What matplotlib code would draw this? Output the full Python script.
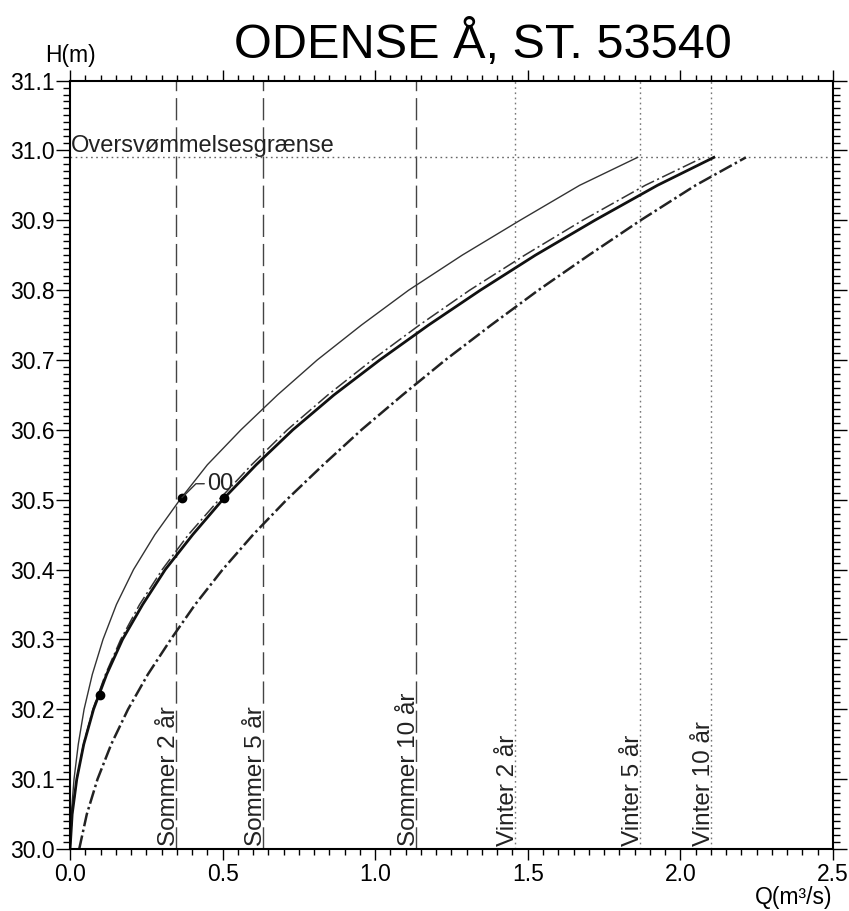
import matplotlib
matplotlib.use('Agg')
import matplotlib.pyplot as plt
from matplotlib.ticker import MultipleLocator

plt.rcParams['font.family'] = ['Liberation Sans', 'DejaVu Sans']
plt.rcParams['lines.scale_dashes'] = False

# Vandstand (m) og vandføring (m3/s) aflæst fra kurverne
H = [30.0, 30.05, 30.1, 30.15, 30.2, 30.25, 30.3, 30.35, 30.4, 30.45, 30.5,
     30.55, 30.6, 30.65, 30.7, 30.75, 30.8, 30.85, 30.9, 30.95, 30.99]
Q_tynd = [0.0, 0.004, 0.013, 0.027, 0.046, 0.073, 0.108, 0.152, 0.208, 0.278, 0.36,
          0.45, 0.56, 0.68, 0.81, 0.955, 1.11, 1.285, 1.475, 1.67, 1.86]
Q_langstreg = [0.0, 0.007, 0.022, 0.044, 0.075, 0.116, 0.166, 0.228, 0.302, 0.388, 0.488,
               0.595, 0.712, 0.845, 0.99, 1.145, 1.31, 1.49, 1.68, 1.885, 2.075]
Q_tyk = [0.0, 0.007, 0.022, 0.045, 0.077, 0.12, 0.172, 0.238, 0.312, 0.402, 0.50,
         0.61, 0.73, 0.865, 1.015, 1.175, 1.345, 1.525, 1.72, 1.925, 2.11]
Q_stregpunkt = [0.03, 0.055, 0.09, 0.135, 0.19, 0.255, 0.33, 0.41, 0.50, 0.60, 0.71,
                0.83, 0.955, 1.09, 1.23, 1.38, 1.535, 1.70, 1.87, 2.05, 2.215]

# Målinger
maal_Q = [0.098, 0.367, 0.503]
maal_H = [30.22, 30.503, 30.503]

# Afstrømningsniveauer
sommer_navne = ['Sommer 2 år', 'Sommer 5 år', 'Sommer 10 år']
sommer_Q = [0.348, 0.633, 1.134]
vinter_navne = ['Vinter 2 år', 'Vinter 5 år', 'Vinter 10 år']
vinter_Q = [1.459, 1.869, 2.10]

OVERSVOEM = 30.99

fig = plt.figure(figsize=(8.49, 9.11), dpi=100)
ax = fig.add_axes([0.0825, 0.068, 0.8985, 0.8436])

ax.set_xlim(0, 2.5)
ax.set_ylim(30.0, 31.1)

# Vertikale linjer
for navn, q in zip(sommer_navne, sommer_Q):
    ax.plot([q, q], [30.0, 31.1], color='#444444', lw=1.0, ls=(0, (16, 5)))
    ax.text(q - 0.004, 30.004, navn, rotation=90, rotation_mode='anchor',
            ha='left', va='baseline', fontsize=17.5, color='#222222')
for navn, q in zip(vinter_navne, vinter_Q):
    ax.plot([q, q], [30.0, 31.1], color='#777777', lw=1.0, ls=(0, (1.2, 2.5)))
    ax.text(q - 0.004, 30.004, navn, rotation=90, rotation_mode='anchor',
            ha='left', va='baseline', fontsize=17.5, color='#222222')

# Oversvømmelsesgrænse
ax.plot([0, 2.5], [OVERSVOEM, OVERSVOEM], color='#666666', lw=1.0, ls=(0, (1.2, 2.5)))
ax.text(0.004, OVERSVOEM + 0.007, 'Oversvømmelsesgrænse', fontsize=17,
        ha='left', va='baseline', color='#222222')

# Kurver
ax.plot(Q_tynd, H, color='#333333', lw=1.0)
ax.plot(Q_langstreg, H, color='#333333', lw=1.1, ls=(0, (10, 2.5, 1.5, 2.5)))
ax.plot(Q_tyk, H, color='#111111', lw=2.0)
ax.plot(Q_stregpunkt, H, color='#222222', lw=1.8, ls=(0, (10, 2.5, 1.8, 2.5)))

ax.plot(maal_Q, maal_H, 'o', color='black', ms=6)
ax.annotate('00', xy=(maal_Q[1], maal_H[1]), xytext=(18, 10), textcoords='offset points',
            fontsize=17, ha='left', va='center', color='#222222',
            arrowprops=dict(arrowstyle='-', lw=1.0, color='#333333', shrinkA=0, shrinkB=0,
                            connectionstyle='angle,angleA=0,angleB=45'))

# Akser
ax.xaxis.set_major_locator(MultipleLocator(0.5))
ax.xaxis.set_minor_locator(MultipleLocator(0.05))
ax.yaxis.set_major_locator(MultipleLocator(0.1))
ax.yaxis.set_minor_locator(MultipleLocator(0.01))
ax.xaxis.set_major_formatter(plt.FormatStrFormatter('%.1f'))
ax.yaxis.set_major_formatter(plt.FormatStrFormatter('%.1f'))
ax.tick_params(which='both', direction='out', top=True, right=True, labelsize=16.5, width=1.0)
ax.tick_params(axis='x', which='major', length=8, pad=2)
ax.tick_params(axis='x', which='minor', length=4)
ax.tick_params(axis='y', which='major', length=10, pad=1)
ax.tick_params(axis='y', which='minor', length=5)
for s in ax.spines.values():
    s.set_linewidth(1.5)

ax.text(0.0, 1.018, 'H(m)', transform=ax.transAxes, fontsize=16.5, ha='center', va='bottom')
ax.text(1.0, -0.048, 'Q(m³/s)', transform=ax.transAxes, fontsize=16.5, ha='right', va='top')
fig.text(0.569, 0.978, 'ODENSE Å, ST. 53540', fontsize=35, ha='center', va='top')

fig.savefig('out.png', dpi=100)
